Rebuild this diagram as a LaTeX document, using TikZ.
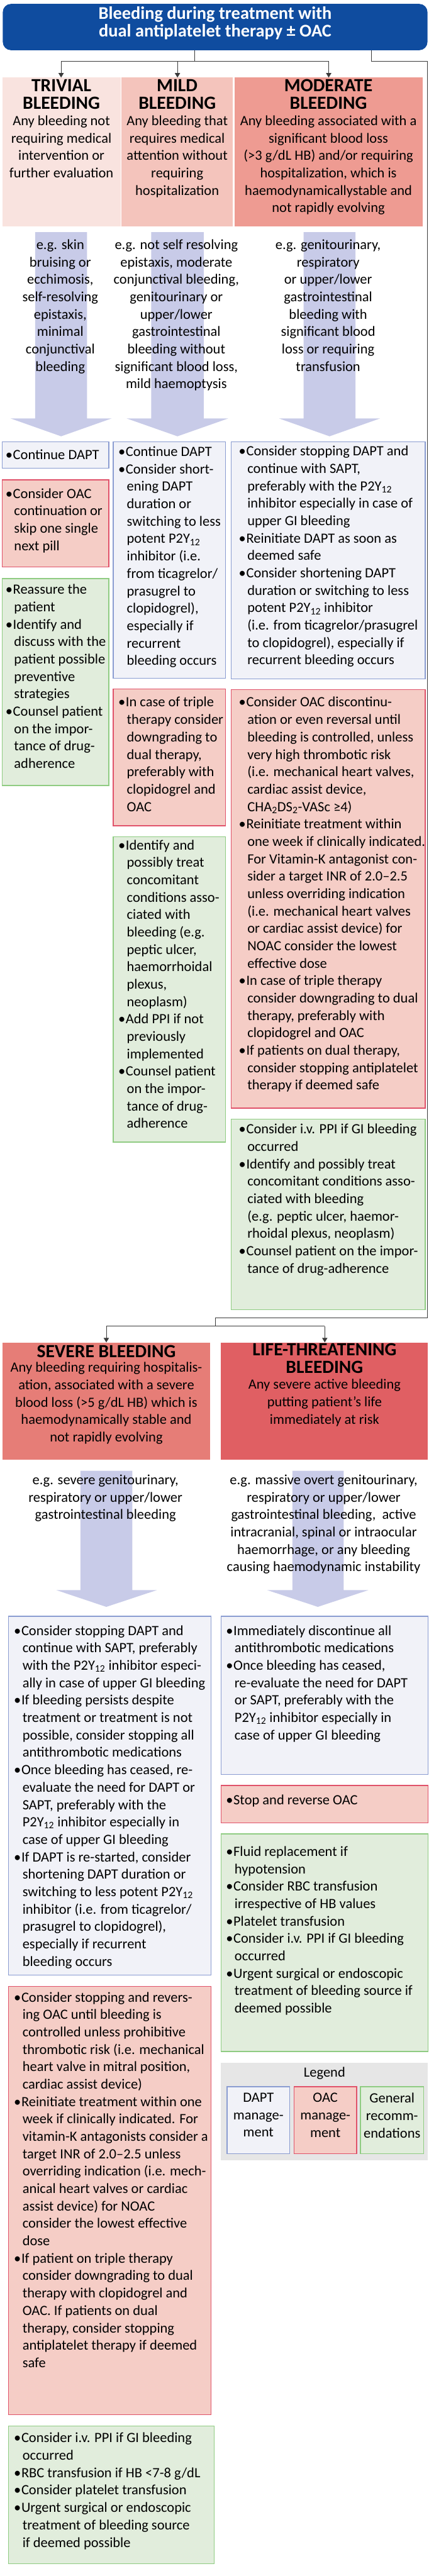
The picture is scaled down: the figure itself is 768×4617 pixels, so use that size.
\documentclass[tikz,border=0pt]{standalone}
\usepackage{fontspec}
\setmainfont{Carlito}
\usetikzlibrary{arrows.meta,fit}
\definecolor{titleblue}{HTML}{0F4C9F}
\definecolor{trivfill}{HTML}{F9E3DF}
\definecolor{mildfill}{HTML}{F4C4BC}
\definecolor{modfill}{HTML}{EE9B92}
\definecolor{sevfill}{HTML}{E67D77}
\definecolor{lifefill}{HTML}{E05F63}
\definecolor{arrowfill}{HTML}{C8CBE8}
\definecolor{daptfill}{HTML}{F1F2F8}
\definecolor{daptline}{HTML}{8A9CD1}
\definecolor{oacfill}{HTML}{F5CDC6}
\definecolor{oacline}{HTML}{E0526A}
\definecolor{genfill}{HTML}{E1EDDC}
\definecolor{genline}{HTML}{8FCC82}
\definecolor{legfill}{HTML}{E6E6E6}
\definecolor{connline}{HTML}{3A3A3A}
\newcommand\bodyf{\fontsize{19}{23.4}\selectfont\lineskiplimit=-100pt\relax}
\newcommand\headf{\fontsize{25}{23.4}\selectfont\bfseries\lineskiplimit=-100pt\relax}
\newcommand\titlef{\fontsize{24}{24}\selectfont\bfseries\lineskiplimit=-100pt\relax}
\newcommand\bi{\makebox[10pt][l]{•}}
\newcommand\ci{\hspace*{11.5pt}}
\newcommand\pyt{P2Y\textsubscript{12}}
\tikzset{
  boxfit/.style={inner sep=0pt, outer sep=0pt},
  hdr/.style={boxfit, fill=#1, draw=none},
  daptbox/.style={boxfit, fill=daptfill, draw=daptline, line width=1.1pt},
  oacbox/.style={boxfit, fill=oacfill, draw=oacline, line width=1.1pt},
  genbox/.style={boxfit, fill=genfill, draw=genline, line width=1.1pt},
  txt/.style={inner sep=0pt, outer sep=0pt, align=left, anchor=north west, font=\bodyf,
    yshift=17pt, execute at begin node={\rule{0pt}{17pt}}},
  ctxt/.style={inner sep=0pt, outer sep=0pt, align=center, anchor=north, font=\bodyf,
    yshift=17pt, execute at begin node={\rule{0pt}{17pt}}},
  htxt/.style={inner sep=0pt, outer sep=0pt, align=center, anchor=north, font=\headf,
    yshift=19pt, execute at begin node={\rule{0pt}{19pt}}},
  conn/.style={draw=connline, line width=0.8pt},
  connarrow/.style={conn, -{Triangle[length=6pt,width=7pt]}},
  bigarrow/.style={fill=arrowfill, draw=none}
}
\begin{document}
\begin{tikzpicture}[x=0.75pt,y=-0.75pt]
\useasboundingbox (0,0) rectangle (768,4617);

% ---------- title ----------
\node[boxfit, fill=titleblue, rounded corners=11pt, fit={(5,7) (766,90)}] (title) {};
\node[inner sep=0pt, align=center, anchor=north, font=\titlef, text=white,
  yshift=20pt, execute at begin node={\rule{0pt}{20pt}}] (title-t) at (385.5,38)
  {Bleeding during treatment with\\dual antiplatelet therapy ± OAC};

% ---------- upper headers ----------
\node[hdr=trivfill, fit={(4,139) (216,406)}] (triv) {};
\node[hdr=mildfill, fit={(218,139) (417,406)}] (mild) {};
\node[hdr=modfill, fit={(420,139) (757,406)}] (mod) {};

\node[htxt] (triv-h) at (110,168) {TRIVIAL\\BLEEDING};
\node[ctxt] (triv-b) at (110,230) {Any bleeding not\\requiring medical\\intervention or\\further evaluation};
\node[htxt] (mild-h) at (317.5,168) {MILD\\BLEEDING};
\node[ctxt] (mild-b) at (317.5,230) {Any bleeding that\\requires medical\\attention without\\requiring\\hospitalization};
\node[htxt] (mod-h) at (588.5,168) {MODERATE\\BLEEDING};
\node[ctxt] (mod-b) at (588.5,230) {Any bleeding associated with a\\significant blood loss\\(>3 g/dL HB) and/or requiring\\hospitalization, which is\\haemodynamicallystable and\\not rapidly evolving};

% ---------- connectors top ----------
\coordinate (j1) at (349,110);
\coordinate (ta) at (109.5,110);
\coordinate (ma) at (318,110);
\coordinate (da) at (589,110);
\coordinate (r0) at (666,110);
\coordinate (r1) at (766.3,110);
\coordinate (r2) at (766.3,2362);
\coordinate (r3) at (386,2362);
\coordinate (j2) at (386,2377);
\coordinate (sa) at (190.5,2377);
\coordinate (la) at (582,2377);
\draw[conn] (title.south -| j1) -- (j1);
\draw[conn] (ta) -- (da);
\draw[connarrow] (ta) -- (triv.north -| ta);
\draw[connarrow] (ma) -- (mild.north -| ma);
\draw[connarrow] (da) -- (mod.north -| da);
\draw[conn] (title.south -| r0) -- (r0) -- (r1) -- (r2) -- (r3) -- (j2);

% ---------- big arrows upper ----------
\fill[bigarrow] (63,416) -- (156,416) -- (156,750) -- (200,750) -- (109.5,782) -- (19,750) -- (63,750) -- cycle;
\fill[bigarrow] (271,416) -- (365,416) -- (365,750) -- (409,750) -- (318,782) -- (227,750) -- (271,750) -- cycle;
\fill[bigarrow] (544,416) -- (637,416) -- (637,750) -- (681,750) -- (590.5,782) -- (500,750) -- (544,750) -- cycle;

\node[ctxt] (triv-eg) at (108,452) {e.g. skin\\bruising or\\ecchimosis,\\self-resolving\\epistaxis,\\minimal\\conjunctival\\bleeding};
\node[ctxt] (mild-eg) at (316,452) {e.g. not self resolving\\epistaxis, moderate\\conjunctival bleeding,\\genitourinary or\\upper/lower\\gastrointestinal\\bleeding without\\significant blood loss,\\mild haemoptysis};
\node[ctxt] (mod-eg) at (588,452) {e.g. genitourinary,\\respiratory\\or upper/lower\\gastrointestinal\\bleeding with\\significant blood\\loss or requiring\\transfusion};

% ---------- trivial column boxes ----------
\node[daptbox, fit={(4,792) (195,839)}] (triv-dapt) {};
\node[txt] (triv-dapt-t) at (10,823) {\bi Continue DAPT};
\node[oacbox, fit={(4,860) (195,1016)}] (triv-oac) {};
\node[txt] (triv-oac-t) at (10,898) {\bi Consider OAC\\\ci continuation or\\\ci skip one single\\\ci next pill};
\node[genbox, fit={(4,1037) (195,1408)}] (triv-gen) {};
\node[txt] (triv-gen-t) at (10,1070) {\bi Reassure the\\\ci patient\\\bi Identify and\\\ci discuss with the\\\ci patient possible\\\ci preventive\\\ci strategies\\\bi Counsel patient\\\ci on the impor-\\\ci tance of drug-\\\ci adherence};

% ---------- mild column boxes ----------
\node[daptbox, fit={(203,792) (404,1216)}] (mild-dapt) {};
\node[txt] (mild-dapt-t) at (212,823) {\bi Continue DAPT\\\bi Consider short-\\\ci ening DAPT\\\ci duration or\\\ci switching to less\\\ci potent \pyt\\\ci inhibitor (i.e.\\\ci from ticagrelor/\\\ci prasugrel to\\\ci clopidogrel),\\\ci especially if\\\ci recurrent\\\ci bleeding occurs};
\node[oacbox, fit={(203,1235) (404,1480)}] (mild-oac) {};
\node[txt] (mild-oac-t) at (212,1272) {\bi In case of triple\\\ci therapy consider\\\ci downgrading to\\\ci dual therapy,\\\ci preferably with\\\ci clopidogrel and\\\ci OAC};
\node[genbox, fit={(203,1500) (404,2047)}] (mild-gen) {};
\node[txt] (mild-gen-t) at (212,1528) {\bi Identify and\\\ci possibly treat\\\ci concomitant\\\ci conditions asso-\\\ci ciated with\\\ci bleeding (e.g.\\\ci peptic ulcer,\\\ci haemorrhoidal\\\ci plexus,\\\ci neoplasm)\\\bi Add PPI if not\\\ci previously\\\ci implemented\\\bi Counsel patient\\\ci on the impor-\\\ci tance of drug-\\\ci adherence};

% ---------- moderate column boxes ----------
\node[daptbox, fit={(414,792) (762,1217)}] (mod-dapt) {};
\node[txt] (mod-dapt-t) at (428,822) {\bi Consider stopping DAPT and\\\ci continue with SAPT,\\\ci preferably with the \pyt\\\ci inhibitor especially in case of\\\ci upper GI bleeding\\\bi Reinitiate DAPT as soon as\\\ci deemed safe\\\bi Consider shortening DAPT\\\ci duration or switching to less\\\ci potent \pyt{} inhibitor\\\ci (i.e. from ticagrelor/prasugrel\\\ci to clopidogrel), especially if\\\ci recurrent bleeding occurs};
\node[oacbox, fit={(414,1236) (762,1986)}] (mod-oac) {};
\node[txt] (mod-oac-t) at (428,1272) {\bi Consider OAC discontinu-\\\ci ation or even reversal until\\\ci bleeding is controlled, unless\\\ci very high thrombotic risk\\\ci (i.e. mechanical heart valves,\\\ci cardiac assist device,\\\ci CHA\textsubscript{2}DS\textsubscript{2}-VASc ≥4)\\\bi Reinitiate treatment within\\\ci one week if clinically indicated.\\\ci For Vitamin-K antagonist con-\\\ci sider a target INR of 2.0–2.5\\\ci unless overriding indication\\\ci (i.e. mechanical heart valves\\\ci or cardiac assist device) for\\\ci NOAC consider the lowest\\\ci effective dose\\\bi In case of triple therapy\\\ci consider downgrading to dual\\\ci therapy, preferably with\\\ci clopidogrel and OAC\\\bi If patients on dual therapy,\\\ci consider stopping antiplatelet\\\ci therapy if deemed safe};
\node[genbox, fit={(414,2006) (762,2347)}] (mod-gen) {};
\node[txt] (mod-gen-t) at (428,2037) {\bi Consider i.v. PPI if GI bleeding\\\ci occurred\\\bi Identify and possibly treat\\\ci concomitant conditions asso-\\\ci ciated with bleeding\\\ci (e.g. peptic ulcer, haemor-\\\ci rhoidal plexus, neoplasm)\\\bi Counsel patient on the impor-\\\ci tance of drug-adherence};

% ---------- lower headers ----------
\node[hdr=sevfill, fit={(5,2406) (376,2616)}] (sev) {};
\node[hdr=lifefill, fit={(396,2406) (767,2616)}] (life) {};
\draw[conn] (sa) -- (la);
\draw[connarrow] (sa) -- (sev.north -| sa);
\draw[connarrow] (la) -- (life.north -| la);

\node[htxt] (sev-h) at (190.5,2433) {SEVERE BLEEDING};
\node[ctxt] (sev-b) at (190.5,2464.5) {Any bleeding requiring hospitalis-\\ation, associated with a severe\\blood loss (>5 g/dL HB) which is\\haemodynamically stable and\\not rapidly evolving};
\node[htxt] (life-h) at (581.5,2433) {LIFE-THREATENING\\BLEEDING};
\node[ctxt] (life-b) at (581.5,2495) {Any severe active bleeding\\putting patient’s life\\immediately at risk};

% ---------- big arrows lower ----------
\fill[bigarrow] (144,2636) -- (237,2636) -- (237,2850) -- (281,2850) -- (190.5,2880) -- (101,2850) -- (144,2850) -- cycle;
\fill[bigarrow] (524,2636) -- (616,2636) -- (616,2850) -- (660,2850) -- (569.5,2880) -- (479,2850) -- (524,2850) -- cycle;

\node[ctxt] (sev-eg) at (189,2666) {e.g. severe genitourinary,\\respiratory or upper/lower\\gastrointestinal bleeding};
\node[ctxt] (life-eg) at (580,2666) {e.g. massive overt genitourinary,\\respiratory or upper/lower\\gastrointestinal bleeding, \ active\\intracranial, spinal or intraocular\\haemorrhage, or any bleeding\\causing haemodynamic instability};

% ---------- severe column boxes ----------
\node[daptbox, fit={(15,2897) (378,3540)}] (sev-dapt) {};
\node[txt] (sev-dapt-t) at (25,2936) {\bi Consider stopping DAPT and\\\ci continue with SAPT, preferably\\\ci with the \pyt{} inhibitor especi-\\\ci ally in case of upper GI bleeding\\\bi If bleeding persists despite\\\ci treatment or treatment is not\\\ci possible, consider stopping all\\\ci antithrombotic medications\\\bi Once bleeding has ceased, re-\\\ci evaluate the need for DAPT or\\\ci SAPT, preferably with the\\\ci \pyt{} inhibitor especially in\\\ci case of upper GI bleeding\\\bi If DAPT is re-started, consider\\\ci shortening DAPT duration or\\\ci switching to less potent \pyt\\\ci inhibitor (i.e. from ticagrelor/\\\ci prasugrel to clopidogrel),\\\ci especially if recurrent\\\ci bleeding occurs};
\node[oacbox, fit={(15,3560) (378,4328)}] (sev-oac) {};
\node[txt] (sev-oac-t) at (25,3593) {\bi Consider stopping and revers-\\\ci ing OAC until bleeding is\\\ci controlled unless prohibitive\\\ci thrombotic risk (i.e. mechanical\\\ci heart valve in mitral position,\\\ci cardiac assist device)\\\bi Reinitiate treatment within one\\\ci week if clinically indicated. For\\\ci vitamin-K antagonists consider a\\\ci target INR of 2.0–2.5 unless\\\ci overriding indication (i.e. mech-\\\ci anical heart valves or cardiac\\\ci assist device) for NOAC\\\ci consider the lowest effective\\\ci dose\\\bi If patient on triple therapy\\\ci consider downgrading to dual\\\ci therapy with clopidogrel and\\\ci OAC. If patients on dual\\\ci therapy, consider stopping\\\ci antiplatelet therapy if deemed\\\ci safe};
\node[genbox, fit={(15,4348) (384,4595)}] (sev-gen) {};
\node[txt] (sev-gen-t) at (25,4383) {\bi Consider i.v. PPI if GI bleeding\\\ci occurred\\\bi RBC transfusion if HB <7-8 g/dL\\\bi Consider platelet transfusion\\\bi Urgent surgical or endoscopic\\\ci treatment of bleeding source\\\ci if deemed possible};

% ---------- life-threatening column boxes ----------
\node[daptbox, fit={(396,2897) (767,3180)}] (life-dapt) {};
\node[txt] (life-dapt-t) at (405,2936) {\bi Immediately discontinue all\\\ci antithrombotic medications\\\bi Once bleeding has ceased,\\\ci re-evaluate the need for DAPT\\\ci or SAPT, preferably with the\\\ci \pyt{} inhibitor especially in\\\ci case of upper GI bleeding};
\node[oacbox, fit={(396,3200) (767,3267)}] (life-oac) {};
\node[txt] (life-oac-t) at (405,3234) {\bi Stop and reverse OAC};
\node[genbox, fit={(396,3287) (767,3677)}] (life-gen) {};
\node[txt] (life-gen-t) at (405,3332) {\bi Fluid replacement if\\\ci hypotension\\\bi Consider RBC transfusion\\\ci irrespective of HB values\\\bi Platelet transfusion\\\bi Consider i.v. PPI if GI bleeding\\\ci occurred\\\bi Urgent surgical or endoscopic\\\ci treatment of bleeding source if\\\ci deemed possible};

% ---------- legend ----------
\node[boxfit, fill=legfill, fit={(396,3697) (767,3872)}] (legend) {};
\node[ctxt] (legend-t) at (581.5,3722) {Legend};
\node[daptbox, fit={(407,3740) (519,3860)}] (leg-dapt) {};
\node[oacbox, fit={(527,3740) (639,3860)}] (leg-oac) {};
\node[genbox, fit={(646,3740) (759,3860)}] (leg-gen) {};
\node[ctxt] (leg-dapt-t) at (463,3774) {DAPT\\manage-\\ment};
\node[ctxt] (leg-oac-t) at (583,3774) {OAC\\manage-\\ment};
\node[ctxt] (leg-gen-t) at (702.5,3774) {General\\recomm-\\endations};
\end{tikzpicture}
\end{document}
